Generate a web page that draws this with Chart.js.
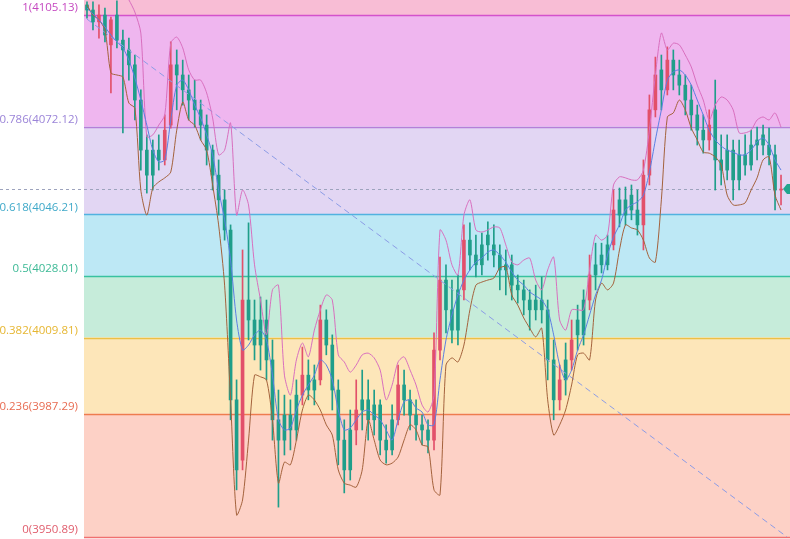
<!DOCTYPE html>
<html>
<head>
<meta charset="utf-8">
<script src="https://cdn.jsdelivr.net/npm/chart.js@4.4.1/dist/chart.umd.min.js"></script>
<style>
  html, body { margin: 0; padding: 0; background: #fff; }
  #wrap { width: 790px; height: 539px; position: relative; }
</style>
</head>
<body>
<div id="wrap"><canvas id="chart"></canvas></div>
<script>
// candles
const opens = [
  4108.1, 4106.6, 4103.1, 4105.1, 4096.3, 4105.1, 4097.7, 4094.8, 4090.4, 4080.0,
  4065.2, 4065.2, 4065.2, 4062.3, 4072.6, 4090.4, 4087.4, 4083.0, 4080.0, 4077.1,
  4072.6, 4065.2, 4057.8, 4050.5, 4041.6, 3991.4, 3973.6, 4020.9, 4015.0, 4015.0,
  4015.0, 4003.2, 3985.5, 3986.9, 3986.9, 3992.8, 3992.8, 3998.7, 3997.3, 3997.3,
  4015.0, 4007.6, 3994.3, 3979.5, 3982.5, 3982.5, 3991.4, 3991.4, 3989.9, 3989.9,
  3979.5, 3985.5, 3985.5, 3995.8, 3991.4, 3986.9, 3984.0, 3982.5, 3979.5, 4006.1,
  4026.8, 4018.0, 4023.9, 4023.9, 4038.6, 4034.2, 4037.2, 4040.1, 4037.2, 4034.2,
  4031.3, 4031.3, 4025.3, 4023.9, 4020.9, 4020.9, 4020.9, 4018.0, 4003.2, 3991.4,
  4003.2, 4003.2, 4015.0, 4020.9, 4020.9, 4031.3, 4034.2, 4037.2, 4037.2, 4050.5,
  4050.5, 4051.9, 4047.5, 4043.1, 4057.8, 4077.1, 4088.9, 4083.0, 4091.8, 4087.4,
  4084.4, 4080.0, 4075.6, 4071.1, 4068.2, 4077.1, 4062.3, 4065.2, 4065.2, 4063.8,
  4063.8, 4066.7, 4068.2, 4069.7, 4066.7, 4063.8, 4053.4
];
const highs = [
  4109.0, 4109.0, 4108.1, 4107.2, 4104.5, 4109.3, 4100.7, 4098.3, 4093.3, 4083.0,
  4069.7, 4068.2, 4069.7, 4075.6, 4097.2, 4094.8, 4091.8, 4087.4, 4085.9, 4080.0,
  4075.6, 4066.7, 4062.3, 4053.4, 4043.1, 3997.3, 4035.7, 4043.7, 4020.9, 4021.8,
  4020.9, 4009.1, 3994.3, 3992.8, 3991.4, 3997.3, 4007.0, 4003.2, 4001.7, 4019.4,
  4018.0, 4010.6, 3997.3, 3985.5, 3988.4, 3997.3, 4000.2, 3997.3, 3994.3, 3991.4,
  3984.0, 3989.9, 4001.7, 4000.2, 3994.3, 3991.4, 3986.9, 3985.5, 4011.2, 4033.6,
  4031.3, 4026.8, 4028.3, 4043.1, 4043.7, 4040.1, 4040.7, 4044.0, 4043.1, 4037.2,
  4035.7, 4034.2, 4028.3, 4026.8, 4023.9, 4025.3, 4027.7, 4020.9, 4009.1, 4001.7,
  4008.2, 4015.0, 4019.4, 4023.9, 4034.2, 4037.7, 4037.7, 4040.1, 4053.4, 4054.0,
  4054.3, 4054.9, 4053.4, 4062.3, 4081.5, 4092.7, 4093.3, 4095.7, 4094.8, 4091.8,
  4087.4, 4084.4, 4078.5, 4075.6, 4077.1, 4085.9, 4069.7, 4069.7, 4068.2, 4068.2,
  4069.7, 4071.1, 4072.0, 4072.6, 4071.7, 4066.7, 4057.8
];
const lows = [
  4104.2, 4100.7, 4098.3, 4097.2, 4082.1, 4095.4, 4070.3, 4085.9, 4074.1, 4059.3,
  4052.5, 4053.4, 4059.3, 4060.8, 4071.7, 4077.1, 4078.5, 4074.1, 4072.0, 4068.2,
  4060.8, 4053.4, 4046.0, 4038.6, 3985.5, 3964.8, 3970.7, 4009.1, 4003.2, 4000.2,
  3997.3, 3979.5, 3959.7, 3975.1, 3976.6, 3979.5, 3989.9, 3991.4, 3989.9, 3995.8,
  4004.7, 3988.4, 3972.2, 3963.9, 3967.7, 3978.1, 3982.5, 3979.5, 3981.0, 3975.1,
  3972.7, 3975.1, 3984.0, 3986.9, 3982.5, 3979.5, 3978.1, 3975.7, 3976.6, 4003.2,
  4011.2, 4008.2, 4007.6, 4020.9, 4029.8, 4027.7, 4028.3, 4032.7, 4030.7, 4023.9,
  4022.4, 4020.9, 4020.0, 4016.5, 4012.0, 4015.0, 4014.1, 3997.3, 3985.5, 3988.4,
  3992.8, 4000.2, 4006.1, 4007.6, 4018.0, 4023.9, 4028.9, 4029.8, 4035.7, 4042.5,
  4043.1, 4044.6, 4040.1, 4035.7, 4054.9, 4075.0, 4077.1, 4081.5, 4083.0, 4081.5,
  4075.6, 4071.1, 4066.7, 4064.3, 4065.2, 4053.4, 4054.9, 4056.4, 4050.5, 4053.4,
  4057.8, 4059.3, 4062.3, 4063.8, 4060.8, 4047.5, 4049.0
];
const closes = [
  4106.6, 4103.1, 4105.1, 4099.2, 4103.7, 4097.7, 4094.8, 4090.4, 4080.0, 4065.2,
  4057.8, 4057.8, 4062.3, 4071.1, 4090.4, 4087.4, 4083.0, 4080.0, 4077.1, 4072.6,
  4065.2, 4057.8, 4050.5, 4041.6, 3991.4, 3970.7, 4020.9, 4015.0, 4007.6, 4007.6,
  4003.2, 3985.5, 3979.5, 3979.5, 3982.5, 3982.5, 3998.7, 3994.3, 3994.3, 4015.0,
  4007.6, 3994.3, 3979.5, 3970.7, 3970.7, 3988.4, 3988.4, 3985.5, 3985.5, 3979.5,
  3976.6, 3976.6, 3995.8, 3991.4, 3986.9, 3984.0, 3982.5, 3979.5, 4006.1, 4026.8,
  4018.0, 4012.0, 4012.0, 4038.6, 4034.2, 4031.3, 4031.3, 4037.2, 4034.2, 4029.8,
  4029.8, 4025.3, 4023.9, 4020.9, 4018.0, 4018.0, 4018.0, 4003.2, 3991.4, 3997.3,
  3997.3, 4009.1, 4010.6, 4010.6, 4028.3, 4028.3, 4031.3, 4031.3, 4047.5, 4046.0,
  4046.0, 4047.5, 4043.1, 4057.8, 4077.1, 4087.4, 4083.0, 4091.8, 4087.4, 4084.4,
  4080.0, 4075.6, 4071.1, 4068.2, 4072.6, 4062.3, 4059.3, 4059.3, 4056.4, 4056.4,
  4060.8, 4060.8, 4066.7, 4066.7, 4063.8, 4053.4, 4053.7
];

// overlay lines
const maLine = [
  4107.2, 4105.4, 4103.7, 4101.6, 4099.2, 4097.2, 4095.4, 4091.8, 4086.5, 4080.0,
  4072.6, 4065.2, 4061.7, 4062.3, 4074.1, 4084.4, 4085.9, 4083.0, 4078.5, 4074.7,
  4069.7, 4063.8, 4053.4, 4044.6, 4032.7, 4015.0, 4006.1, 4007.6, 4010.6, 4012.0,
  4009.1, 3998.7, 3985.5, 3982.5, 3983.1, 3988.4, 3992.8, 3995.8, 3998.7, 4003.2,
  4001.7, 3997.3, 3988.4, 3982.5, 3983.1, 3985.5, 3987.8, 3988.4, 3986.9, 3985.5,
  3982.5, 3979.5, 3985.5, 3990.8, 3991.4, 3989.0, 3987.8, 3984.0, 3984.0, 3997.3,
  4009.1, 4016.5, 4022.4, 4026.8, 4029.8, 4032.1, 4033.3, 4035.1, 4035.7, 4034.2,
  4032.1, 4029.2, 4026.8, 4025.3, 4023.3, 4022.1, 4020.9, 4018.0, 4010.6, 4001.7,
  3997.3, 4000.2, 4006.1, 4010.6, 4016.5, 4022.4, 4026.8, 4034.2, 4039.5, 4043.1,
  4047.5, 4049.0, 4049.9, 4051.9, 4058.7, 4068.2, 4077.1, 4085.9, 4088.3, 4088.9,
  4087.4, 4084.4, 4080.0, 4075.6, 4071.1, 4068.2, 4066.4, 4065.2, 4064.6, 4063.8,
  4063.8, 4065.2, 4067.6, 4068.8, 4066.7, 4062.3, 4059.3
];
const upperLine = [
  4115.5, 4115.5, 4115.5, 4115.5, 4115.5, 4115.5, 4112.5, 4109.6, 4106.0, 4099.8,
  4069.1, 4069.7, 4072.6, 4075.6, 4096.8, 4098.6, 4095.4, 4088.9, 4085.9, 4085.9,
  4082.1, 4074.7, 4063.8, 4065.2, 4073.2, 4046.0, 4053.4, 4049.0, 4031.3, 4020.9,
  4010.6, 4023.9, 4025.3, 3998.7, 3992.8, 4003.2, 4008.2, 4004.1, 4012.0, 4018.0,
  4022.4, 4020.9, 4004.7, 4002.6, 3999.6, 4001.7, 4004.7, 4005.2, 4003.8, 4000.2,
  3991.4, 3995.8, 4002.6, 4004.1, 4000.2, 3995.8, 3989.9, 3987.8, 3992.8, 4041.6,
  4038.6, 4031.3, 4028.3, 4046.0, 4050.5, 4041.6, 4041.0, 4041.6, 4042.5, 4042.2,
  4037.2, 4032.1, 4031.3, 4032.7, 4033.3, 4026.8, 4023.9, 4029.8, 4033.6, 4015.0,
  4012.0, 4018.0, 4018.0, 4018.0, 4029.8, 4040.1, 4038.6, 4040.1, 4054.9, 4057.3,
  4057.0, 4056.4, 4056.4, 4059.3, 4071.1, 4087.4, 4099.8, 4094.8, 4096.8, 4096.3,
  4093.3, 4089.8, 4084.4, 4080.0, 4074.1, 4078.5, 4080.9, 4080.0, 4077.1, 4070.3,
  4070.3, 4071.1, 4074.1, 4075.0, 4074.1, 4076.2, 4072.0
];
const lowerLine = [
  4108.1, 4105.1, 4103.7, 4100.7, 4088.0, 4087.4, 4086.8, 4079.1, 4077.6, 4053.4,
  4046.0, 4054.0, 4055.8, 4057.0, 4058.7, 4071.1, 4079.4, 4074.1, 4072.6, 4068.2,
  4065.2, 4054.9, 4043.1, 4025.3, 3991.4, 3957.4, 3961.8, 3979.5, 3998.7, 3998.2,
  3997.3, 3985.5, 3966.8, 3973.0, 3972.2, 3979.5, 3988.4, 3992.8, 3991.4, 3988.4,
  3984.0, 3981.0, 3970.7, 3966.8, 3966.2, 3965.6, 3970.7, 3985.5, 3979.5, 3973.6,
  3972.2, 3972.7, 3974.5, 3979.5, 3984.0, 3982.5, 3978.1, 3977.5, 3964.8, 3963.3,
  4001.7, 4003.8, 4002.6, 4007.6, 4018.0, 4025.3, 4026.2, 4026.8, 4027.4, 4030.4,
  4030.7, 4022.4, 4019.4, 4015.6, 4012.6, 4010.0, 4012.6, 3991.4, 3981.0, 3984.0,
  3988.4, 3995.8, 4004.7, 4005.2, 4003.2, 4020.9, 4025.9, 4023.9, 4025.9, 4035.7,
  4043.1, 4042.2, 4041.6, 4038.6, 4033.3, 4032.1, 4050.5, 4075.0, 4076.2, 4080.0,
  4077.1, 4071.7, 4068.2, 4064.6, 4064.3, 4063.2, 4060.8, 4051.9, 4049.0, 4049.0,
  4049.6, 4053.4, 4057.0, 4062.3, 4063.2, 4051.9, 4047.5
];

// fibonacci retracement
const fibRatios = ["1", "0.786", "0.618", "0.5", "0.382", "0.236", "0"];
const fibLevels = [4105.13, 4072.12, 4046.21, 4028.01, 4009.81, 3987.29, 3950.89];
const trendLine = [4103.9, 3950.9];
const lastPrice = 4053.7;
const yMin = 3950.28;
const yMax = 4109.56;
const slotCount = 118;

const bandColors = ["#f8bdd5", "#efb6ef", "#e2d6f3", "#bde8f5", "#c6ecda", "#fde6b9", "#fdd1c6"];
const levelColors = ["#d452cc", "#b57fd9", "#52b2e0", "#38c2a0", "#ebc046", "#ee7c4e", "#f07070"];
const labelColors = ["#c548c0", "#9b84d8", "#3fa9c9", "#3cb995", "#e6b631", "#e86c52", "#e05c6c"];
const upColor = "#e2506a";
const downColor = "#1f9e8a";

const labels = Array.from({ length: slotCount }, (_, i) => String(i));
const candleColors = opens.map((o, i) => (closes[i] > o ? upColor : downColor));

const fibPlugin = {
  id: "fibPlugin",
  beforeDatasetsDraw(chart) {
    const { ctx, chartArea: a, scales: { y } } = chart;
    const edges = [yMax].concat(fibLevels);
    ctx.save();
    bandColors.forEach((c, i) => {
      const top = y.getPixelForValue(edges[i]);
      const bot = y.getPixelForValue(edges[i + 1]);
      ctx.fillStyle = c;
      ctx.fillRect(a.left, top, a.right - a.left, bot - top);
    });
    fibLevels.forEach((v, i) => {
      const py = Math.round(y.getPixelForValue(v)) + 0.5;
      ctx.strokeStyle = levelColors[i];
      ctx.lineWidth = 1.3;
      ctx.beginPath();
      ctx.moveTo(a.left, py);
      ctx.lineTo(a.right, py);
      ctx.stroke();
    });
    // last price, dashed across the whole width
    const lp = Math.round(y.getPixelForValue(lastPrice)) + 0.5;
    ctx.strokeStyle = "#9da3bd";
    ctx.lineWidth = 1;
    ctx.setLineDash([3, 3]);
    ctx.beginPath();
    ctx.moveTo(0, lp);
    ctx.lineTo(chart.width, lp);
    ctx.stroke();
    ctx.restore();
  },
  afterDatasetsDraw(chart) {
    const { ctx, chartArea: a, scales: { y } } = chart;
    const lp = y.getPixelForValue(lastPrice);
    ctx.save();
    ctx.fillStyle = "#22a58e";
    ctx.beginPath();
    ctx.moveTo(a.right - 7, lp);
    ctx.lineTo(a.right - 3, lp - 5);
    ctx.lineTo(a.right, lp - 5);
    ctx.lineTo(a.right, lp + 5);
    ctx.lineTo(a.right - 3, lp + 5);
    ctx.closePath();
    ctx.fill();
    ctx.restore();
  },
};

const lineStyle = (color) => ({
  type: "line",
  borderColor: color,
  borderWidth: 1,
  pointRadius: 0,
  tension: 0.25,
  order: 0,
});

new Chart(document.getElementById("chart"), {
  type: "bar",
  data: {
    labels: labels,
    datasets: [
      {
        label: "wick",
        data: lows.map((l, i) => [l, highs[i]]),
        backgroundColor: candleColors,
        barThickness: 1,
        grouped: false,
        order: 2,
      },
      {
        label: "body",
        data: opens.map((o, i) => [o, closes[i]]),
        backgroundColor: candleColors,
        barThickness: 3,
        minBarLength: 1,
        grouped: false,
        order: 1,
      },
      { label: "MA", data: maLine, ...lineStyle("#5b7fe3") },
      { label: "upper", data: upperLine, ...lineStyle("#d86fbe") },
      { label: "lower", data: lowerLine, ...lineStyle("#a4623c") },
      {
        label: "trend",
        data: [
          { x: labels[0], y: trendLine[0] },
          { x: labels[slotCount - 1], y: trendLine[1] },
        ],
        type: "line",
        borderColor: "#8c9ce6",
        borderWidth: 1,
        borderDash: [6, 4],
        pointRadius: 0,
        order: 0,
      },
    ],
  },
  options: {
    responsive: true,
    maintainAspectRatio: false,
    animation: false,
    layout: { padding: 0 },
    plugins: { legend: { display: false }, tooltip: { enabled: false } },
    scales: {
      x: { display: false, offset: true },
      y: {
        min: yMin,
        max: yMax,
        position: "left",
        border: { display: false },
        grid: { display: false, drawTicks: false },
        afterFit(scale) {
          scale.width = 84;
          scale.paddingTop = 0;
          scale.paddingBottom = 0;
        },
        afterBuildTicks(axis) {
          axis.ticks = fibLevels.map((v) => ({ value: v }));
        },
        ticks: {
          autoSkip: false,
          padding: 6,
          labelOffset: -7,
          font: { family: "'Open Sans', 'Noto Sans', sans-serif", size: 11.5 },
          color: (c) => labelColors[c.index],
          callback: (v, i) => fibRatios[i] + "(" + fibLevels[i].toFixed(2) + ")",
        },
      },
    },
  },
  plugins: [fibPlugin],
});
</script>
</body>
</html>
